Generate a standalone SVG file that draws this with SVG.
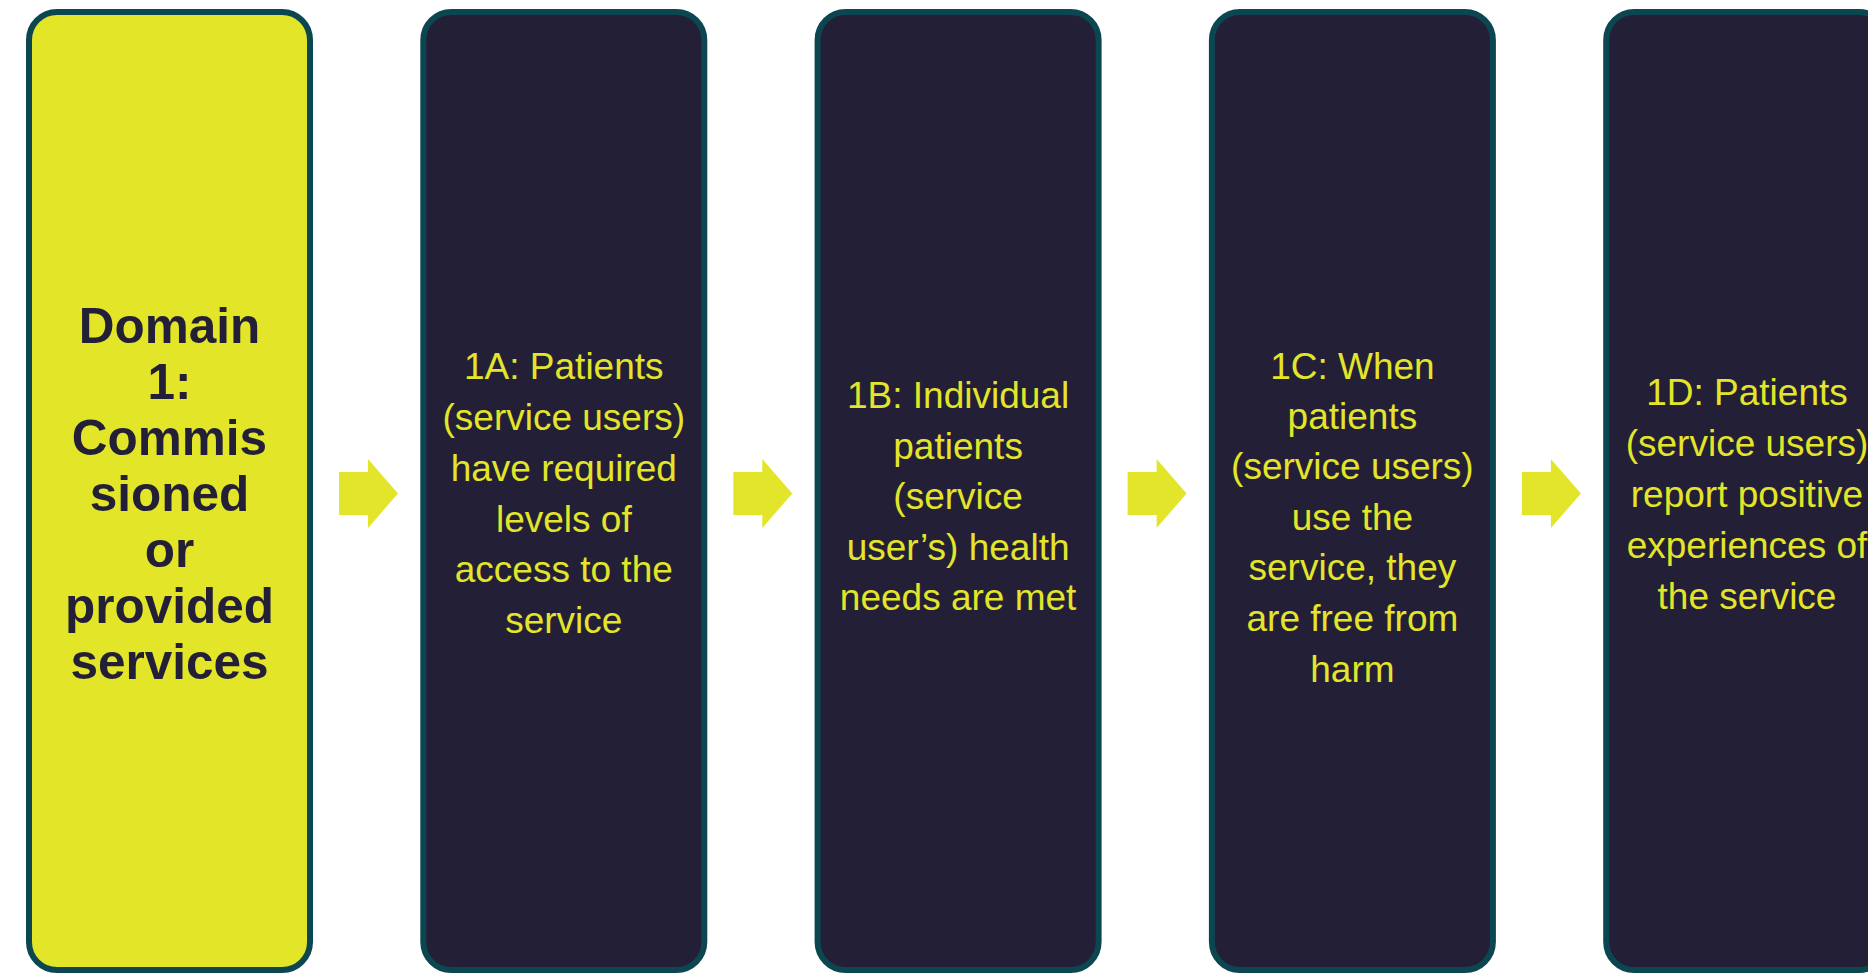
<svg xmlns="http://www.w3.org/2000/svg" width="1868" height="973" viewBox="0 0 1868 973">
  <style>
    .box { stroke: #0c4651; stroke-width: 6; }
    .lead { fill: #e3e628; }
    .step { fill: #231f36; }
    .lead-text { font-family: "Liberation Sans", Arial, sans-serif; font-weight: bold; font-size: 49.5px; fill: #231f36; text-anchor: middle; }
    .step-text { font-family: "Liberation Sans", Arial, sans-serif; font-size: 37px; fill: #e3e52a; text-anchor: middle; }
    .arrow { fill: #e3e52a; }
  </style>
  <defs>
    <polygon id="block-arrow" points="0,13 29,13 29,0 59,34.5 29,69 29,56 0,56"/>
  </defs>

  <rect width="1868" height="973" fill="#ffffff"/>

  <!-- one <text> per line so centring is not skewed by collapsed whitespace -->
  <g id="domain-1">
    <rect class="box lead" x="29" y="12" width="281" height="958" rx="28"/>
    <g class="lead-text">
      <text x="169.5" y="343">Domain</text>
      <text x="169.5" y="399">1:</text>
      <text x="169.5" y="455">Commis</text>
      <text x="169.5" y="511">sioned</text>
      <text x="169.5" y="567">or</text>
      <text x="169.5" y="623">provided</text>
      <text x="169.5" y="679">services</text>
    </g>
  </g>

  <g id="step-1a">
    <rect class="box step" x="423.3" y="12" width="281" height="958" rx="28"/>
    <g class="step-text">
      <text x="563.8" y="379">1A: Patients</text>
      <text x="563.8" y="430">(service users)</text>
      <text x="563.8" y="481">have required</text>
      <text x="563.8" y="532">levels of</text>
      <text x="563.8" y="582">access to the</text>
      <text x="563.8" y="633">service</text>
    </g>
  </g>

  <g id="step-1b">
    <rect class="box step" x="817.6" y="12" width="281" height="958" rx="28"/>
    <g class="step-text">
      <text x="958.1" y="408">1B: Individual</text>
      <text x="958.1" y="459">patients</text>
      <text x="958.1" y="509">(service</text>
      <text x="958.1" y="560">user’s) health</text>
      <text x="958.1" y="610">needs are met</text>
    </g>
  </g>

  <g id="step-1c">
    <rect class="box step" x="1211.9" y="12" width="281" height="958" rx="28"/>
    <g class="step-text">
      <text x="1352.4" y="379">1C: When</text>
      <text x="1352.4" y="429">patients</text>
      <text x="1352.4" y="479">(service users)</text>
      <text x="1352.4" y="530">use the</text>
      <text x="1352.4" y="580">service, they</text>
      <text x="1352.4" y="631">are free from</text>
      <text x="1352.4" y="682">harm</text>
    </g>
  </g>

  <g id="step-1d">
    <rect class="box step" x="1606.2" y="12" width="281" height="958" rx="28"/>
    <g class="step-text">
      <text x="1747" y="405">1D: Patients</text>
      <text x="1747" y="456">(service users)</text>
      <text x="1747" y="507">report positive</text>
      <text x="1747" y="558">experiences of</text>
      <text x="1747" y="609">the service</text>
    </g>
  </g>

  <g id="connectors">
    <use href="#block-arrow" class="arrow" x="339" y="459"/>
    <use href="#block-arrow" class="arrow" x="733.3" y="459"/>
    <use href="#block-arrow" class="arrow" x="1127.6" y="459"/>
    <use href="#block-arrow" class="arrow" x="1521.9" y="459"/>
  </g>
</svg>
